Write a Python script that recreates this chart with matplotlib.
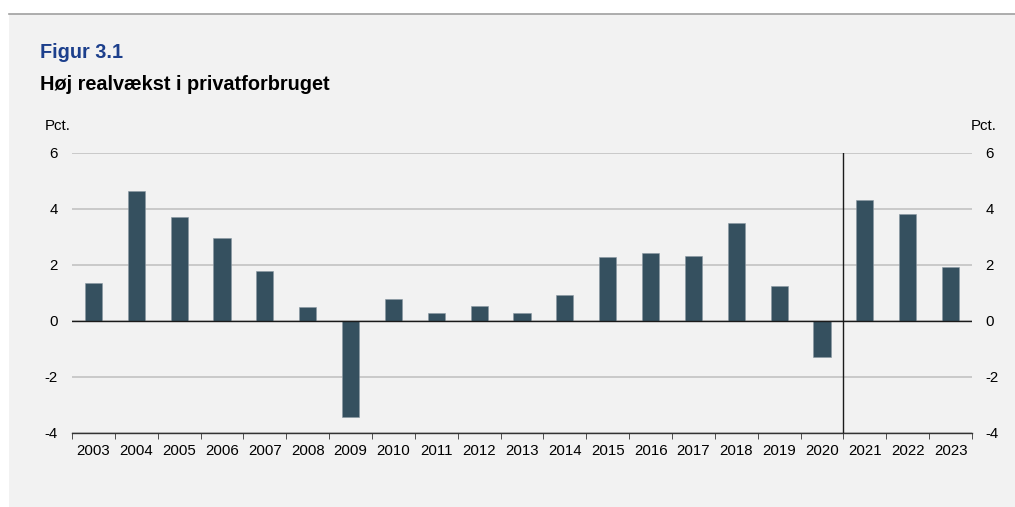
import matplotlib.pyplot as plt
import numpy as np

plt.rcParams['font.family'] = ['Liberation Sans', 'DejaVu Sans']
plt.rcParams['axes.unicode_minus'] = False

years = [str(y) for y in range(2003, 2024)]
vaekst = [1.35, 4.65, 3.70, 2.95, 1.77, 0.50, -3.42, 0.79, 0.29, 0.52, 0.30,
          0.92, 2.29, 2.43, 2.31, 3.50, 1.24, -1.30, 4.31, 3.81, 1.92]
yticks = [-4, -2, 0, 2, 4, 6]

bg = '#f2f2f2'
barcol = '#35505f'

fig = plt.figure(figsize=(10.15, 5.07), dpi=100)
fig.patch.set_facecolor('white')

# grey panel behind the chart
panel = fig.add_axes([9/1015, 0, 1 - 9/1015, 1 - 14/507])
panel.set_facecolor(bg)
panel.set_xticks([])
panel.set_yticks([])
for s in ['left', 'right', 'bottom']:
    panel.spines[s].set_visible(False)
panel.spines['top'].set_color('#a0a0a0')
panel.spines['top'].set_linewidth(1.2)

ax = fig.add_axes([72/1015, (507-433)/507, (972-72)/1015, (433-153)/507])
ax.set_facecolor('none')
x = np.arange(len(years))
ax.bar(x, vaekst, width=0.40, color=barcol, edgecolor='#8a98a2',
       linewidth=0.4, zorder=3)

ax.set_xlim(-0.5, len(years) - 0.5)
ax.set_ylim(-4, 6)
ax.set_yticks(yticks)
ax.yaxis.grid(True, color='#c6c6c6', linewidth=1.3, zorder=0)
ax.axhline(0, color='#1a1a1a', linewidth=1.0, zorder=4)
ax.axvline(17.5, color='#1a1a1a', linewidth=1.0, zorder=4)

for s in ['left', 'right', 'top']:
    ax.spines[s].set_visible(False)
ax.spines['bottom'].set_color('#333333')
ax.spines['bottom'].set_linewidth(1.0)

ax.set_xticks(x)
ax.set_xticklabels(years, fontsize=10.8)
ax.set_xticks(np.arange(-0.5, len(years)), minor=True)
ax.tick_params(axis='x', which='major', length=0, pad=8)
ax.tick_params(axis='x', which='minor', length=4, color='#333333', direction='out')
ax.tick_params(axis='y', length=0, labelsize=10.8, pad=10)

ax2 = ax.twinx()
ax2.set_ylim(-4, 6)
ax2.set_yticks(yticks)
ax2.tick_params(axis='y', length=0, labelsize=10.8, pad=9.5)
for s in ['left', 'right', 'top', 'bottom']:
    ax2.spines[s].set_visible(False)

fig.text(40/1015, 1 - 52/507, 'Figur 3.1', fontsize=14.3, fontweight='bold',
         color='#1c3f8c', va='center')
fig.text(40/1015, 1 - 84/507, 'Høj realvækst i privatforbruget', fontsize=14.3,
         fontweight='bold', color='black', va='center')
fig.text(45/1015, 1 - 126/507, 'Pct.', fontsize=10.8, va='center')
fig.text(997/1015, 1 - 126/507, 'Pct.', fontsize=10.8, va='center', ha='right')

fig.savefig('out.png', dpi=100, facecolor=fig.get_facecolor())
